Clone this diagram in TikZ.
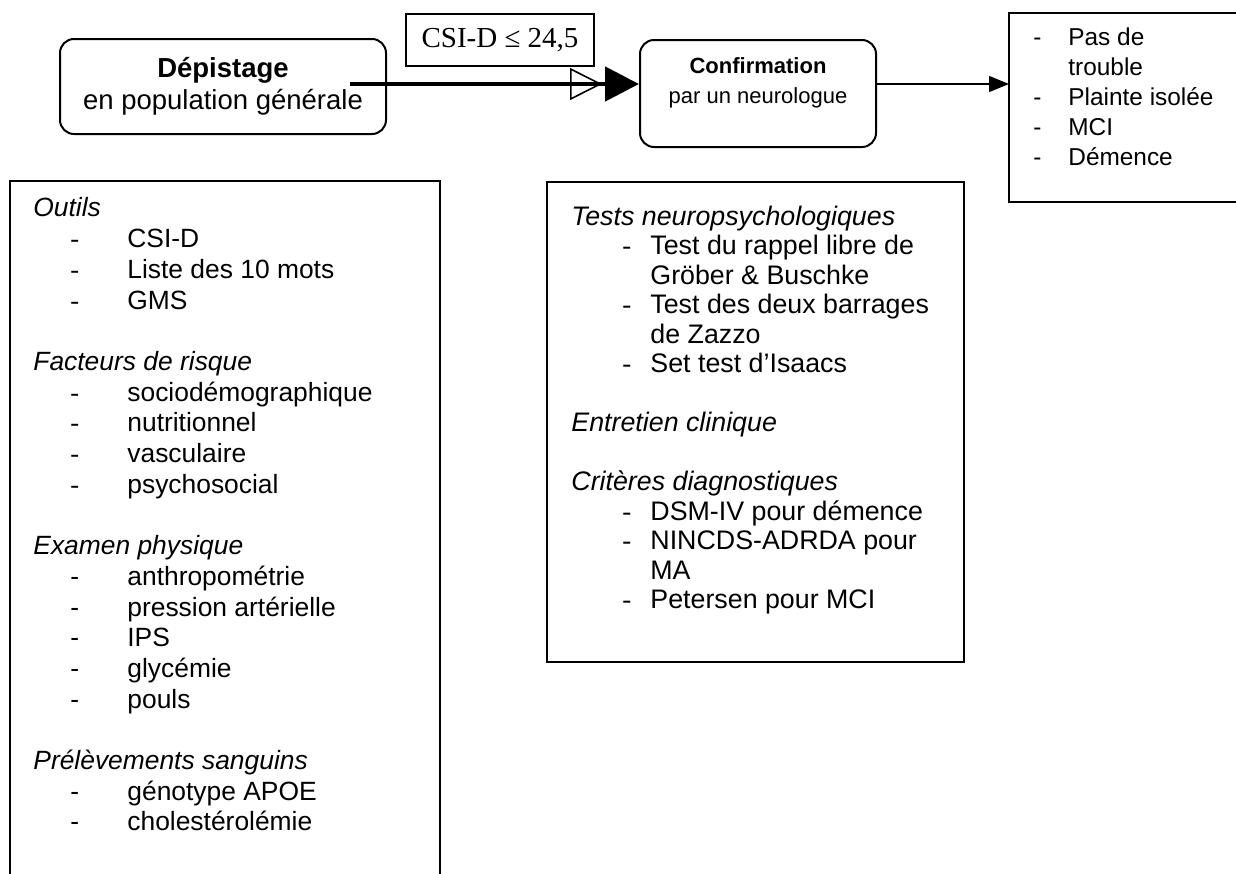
\documentclass[tikz,border=0pt]{standalone}
\usepackage{fontspec}
\setmainfont{Liberation Sans}
\newfontfamily\timesf{Liberation Serif}
\usetikzlibrary{arrows.meta}
\newcommand\hd[1]{\textit{#1}}
\newcommand\litm[1]{\hspace*{18.5pt}\makebox[28.5pt][l]{\timesf -}#1}
\newcommand\litb[1]{\hspace*{18.5pt}\makebox[28.5pt][l]{-}#1}
\newcommand\mitm[1]{\hspace*{25.5pt}\makebox[14pt][l]{\timesf -}#1}
\newcommand\mcont[1]{\hspace*{39.5pt}#1}
\newcommand\ritm[1]{\makebox[17.5pt][l]{-}#1}
\newcommand\rcont[1]{\hspace*{17.5pt}#1}
\begin{document}
\begin{tikzpicture}[x=0.5pt,y=-0.5pt,
  box/.style={draw, line width=1pt, inner sep=0pt},
  rbox/.style={box, rounded corners=7pt},
  txt/.style={anchor=north west, inner sep=0pt, align=left},
]
\useasboundingbox (0,0) rectangle (1236,873);
% top row
\node[rbox, anchor=north west, minimum width=163pt, minimum height=47.5pt,
      align=center, font=\fontsize{13.75}{16}\selectfont] (dep) at (59,38)
      {\textbf{Dépistage}\\en population générale};
\node[box, anchor=north west, minimum width=94pt, minimum height=26pt,
      font=\timesf\fontsize{14.5}{16}\selectfont] (csi) at (405,13) {CSI-D ≤ 24,5};
\node[rbox, anchor=north west, minimum width=118pt, minimum height=53.5pt] (conf) at (639,39) {};
\node[inner sep=0pt, align=center, font=\fontsize{11}{15}\selectfont]
      (conft) at ([yshift=5.5pt]conf.center) {\textbf{Confirmation}\\par un neurologue};
\node[inner sep=0pt, anchor=north west, minimum width=113.5pt, minimum height=94pt] (rb) at (1009,13) {};
\draw[line width=1pt] (rb.north east) -- (rb.north west) -- (rb.south west) -- (rb.south east);
\node[txt, font=\fontsize{12.2}{15}\selectfont] (rbt) at (1033,24)
  {\strut\ritm{Pas de}\\ \rcont{trouble}\\ \ritm{Plainte isolée}\\ \ritm{MCI}\\ \ritm{Démence}};
% arrows
\coordinate (s) at (350,84);
\coordinate (o) at (602,84);
\draw[line width=0.8pt, -{Triangle[open, length=16pt, width=16pt, line width=0.8pt]}] (s) -- (o);
\draw[line width=2.4pt, -{Triangle[length=17pt, width=17pt]}] (s) -- (s -| conf.west);
\draw[line width=0.75pt, -{Triangle[length=10pt, width=8pt]}]
  ([yshift=4.75pt]conf.east) -- ([yshift=4.75pt]conf.east -| rb.west);
% left box
\node[inner sep=0pt, anchor=north west, minimum width=214.5pt, minimum height=346pt] (L) at (10,181) {};
\draw[line width=1pt] (L.south west) -- (L.north west) -- (L.north east) -- (L.south east);
\node[txt, font=\fontsize{13.2}{15.35}\selectfont] (Lt) at (33,195)
  {\strut\hd{Outils}\\
   \litm{CSI-D}\\ \litm{Liste des 10 mots}\\ \litm{GMS}\\ \mbox{}\\
   \hd{Facteurs de risque}\\
   \litm{sociodémographique}\\ \litm{nutritionnel}\\ \litm{vasculaire}\\ \litm{psychosocial}\\ \mbox{}\\
   \hd{Examen physique}\\
   \litb{anthropométrie}\\ \litb{pression artérielle}\\ \litb{IPS}\\ \litb{glycémie}\\ \litb{pouls}\\ \mbox{}\\
   \hd{Prélèvements sanguins}\\
   \litb{génotype APOE}\\ \litb{cholestérolémie}};
% middle box
\node[box, anchor=north west, minimum width=208.5pt, minimum height=240pt] (M) at (546,181) {};
\node[txt, font=\fontsize{13.4}{14.75}\selectfont] (Mt) at (571,204)
  {\strut\hd{Tests neuropsychologiques}\\
   \mitm{Test du rappel libre de}\\ \mcont{Gröber \& Buschke}\\
   \mitm{Test des deux barrages}\\ \mcont{de Zazzo}\\
   \mitm{Set test d’Isaacs}\\ \mbox{}\\
   \hd{Entretien clinique}\\ \mbox{}\\
   \hd{Critères diagnostiques}\\
   \mitm{DSM-IV pour démence}\\ \mitm{NINCDS-ADRDA pour}\\ \mcont{MA}\\
   \mitm{Petersen pour MCI}};
\end{tikzpicture}
\end{document}
